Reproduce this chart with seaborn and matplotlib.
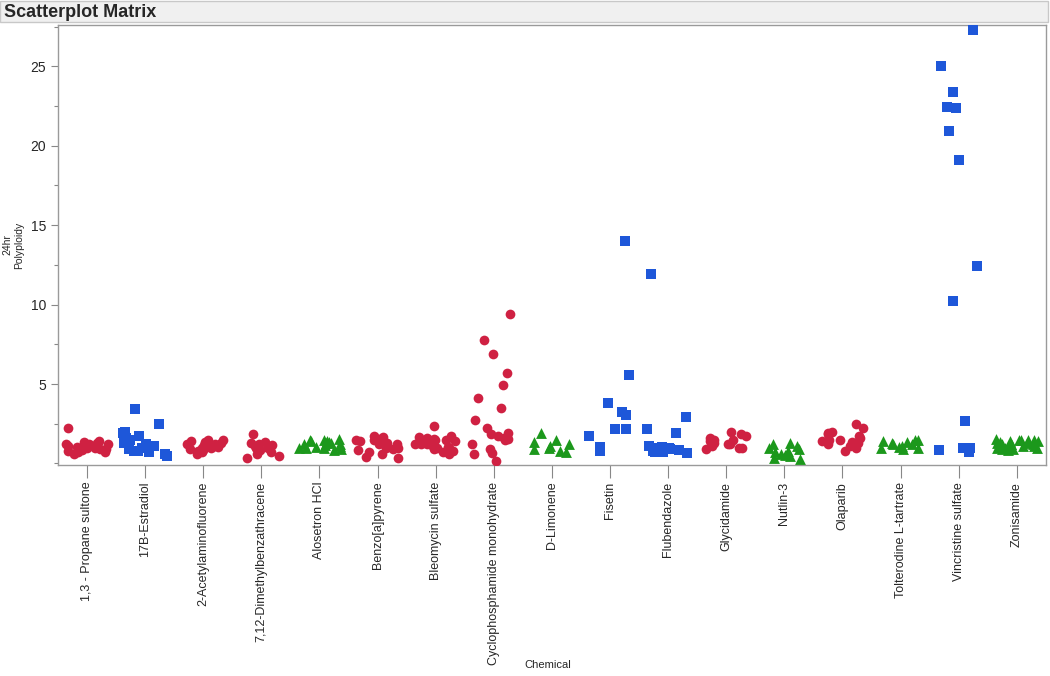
import numpy as np
import pandas as pd
import matplotlib
matplotlib.use("Agg")
import matplotlib.pyplot as plt
from matplotlib.patches import Rectangle
from matplotlib.ticker import MultipleLocator
import seaborn as sns

# Chemicals in axis order and their marker group
chemicals = ["1,3 - Propane sultone", "17B-Estradiol", "2-Acetylaminofluorene",
             "7,12-Dimethylbenzathracene", "Alosetron HCl", "Benzo[a]pyrene",
             "Bleomycin sulfate", "Cyclophosphamide monohydrate", "D-Limonene",
             "Fisetin", "Flubendazole", "Glycidamide", "Nutlin-3", "Olaparib",
             "Tolterodine L-tartrate", "Vincristine sulfate", "Zonisamide"]
groups = ["red", "blue", "red", "red", "green", "red", "red", "red", "green",
          "blue", "blue", "red", "green", "red", "green", "blue", "green"]

# 24hr polyploidy values
propane_sultone = [2.25, 1.4, 1.35, 1.3, 1.25, 1.2, 1.15, 1.1, 1.05, 1.0, 0.95, 0.9,
                   0.85, 0.8, 0.75, 0.7, 0.6, 1.1, 0.9, 1.2]
estradiol = [3.4, 2.5, 2.0, 1.9, 1.75, 1.6, 1.45, 1.3, 1.2, 1.1, 1.0, 0.9, 0.8, 0.7,
             0.6, 0.5, 0.8, 1.5]
aaf = [1.5, 1.45, 1.4, 1.35, 1.3, 1.2, 1.15, 1.1, 1.0, 0.95, 0.9, 0.85, 0.8, 0.7,
       0.6, 1.05, 1.25]
dmba = [1.85, 1.35, 1.3, 1.2, 1.1, 1.0, 0.95, 0.85, 0.7, 0.6, 0.45, 0.35, 1.15, 0.8]
alosetron = [1.55, 1.5, 1.45, 1.4, 1.35, 1.3, 1.25, 1.2, 1.1, 1.05, 1.0, 0.95, 0.9,
             0.85, 1.15, 1.3, 1.0, 1.4]
benzo = [1.7, 1.65, 1.55, 1.5, 1.45, 1.4, 1.3, 1.2, 1.1, 1.0, 0.95, 0.85, 0.75, 0.6,
         0.4, 0.35, 1.25, 0.9]
bleomycin = [2.35, 1.75, 1.65, 1.6, 1.55, 1.5, 1.45, 1.4, 1.35, 1.3, 1.25, 1.2, 1.15,
             1.1, 1.05, 1.0, 0.95, 0.9, 0.85, 0.8, 0.7, 0.6, 1.4, 1.2]
cyclophosphamide = [9.4, 7.8, 6.9, 5.7, 4.95, 4.15, 3.5, 2.75, 2.25, 1.9, 1.85, 1.7,
                    1.6, 1.55, 1.5, 1.25, 0.9, 0.65, 0.6, 0.15]
limonene = [1.95, 1.5, 1.35, 1.2, 1.1, 1.0, 0.9, 0.8, 0.7]
fisetin = [14.0, 5.6, 3.8, 3.25, 3.05, 2.2, 2.15, 1.7, 1.05, 0.8]
flubendazole = [11.95, 2.95, 2.15, 1.95, 1.1, 1.05, 1.0, 1.0, 0.95, 0.9, 0.9, 0.85,
                0.8, 0.8, 0.75, 0.7, 0.7, 0.65]
glycidamide = [2.0, 1.85, 1.7, 1.6, 1.5, 1.45, 1.4, 1.3, 1.2, 1.1, 1.0, 0.95, 0.9, 1.25]
nutlin = [1.3, 1.2, 1.1, 1.0, 0.9, 0.8, 0.7, 0.55, 0.45, 0.35, 0.3, 0.6]
olaparib = [2.5, 2.25, 2.0, 1.85, 1.7, 1.6, 1.5, 1.45, 1.35, 1.3, 1.2, 1.1, 1.0, 0.8,
            1.9, 1.4]
tolterodine = [1.5, 1.45, 1.4, 1.35, 1.3, 1.2, 1.1, 1.05, 1.0, 0.95, 0.9, 1.25]
vincristine = [27.3, 25.0, 23.4, 22.45, 22.4, 20.9, 19.1, 12.4, 10.25, 2.65, 1.0, 0.95,
               0.85, 0.75]
zonisamide = [1.55, 1.5, 1.5, 1.45, 1.45, 1.4, 1.4, 1.35, 1.3, 1.3, 1.25, 1.2, 1.2,
              1.15, 1.1, 1.1, 1.05, 1.0, 1.0, 0.95, 0.9, 0.9, 0.85, 1.3, 1.2]

values = [propane_sultone, estradiol, aaf, dmba, alosetron, benzo, bleomycin,
          cyclophosphamide, limonene, fisetin, flubendazole, glycidamide, nutlin,
          olaparib, tolterodine, vincristine, zonisamide]

rows = []
for chem, grp, vals in zip(chemicals, groups, values):
    for v in vals:
        rows.append((chem, grp, v))
df = pd.DataFrame(rows, columns=["Chemical", "group", "Polyploidy"])

sns.set_style("white")
plt.rcParams["font.family"] = ["Liberation Sans", "DejaVu Sans"]

colors = {"red": "#CF2142", "blue": "#1E57D9", "green": "#1C981C"}
markers = {"red": "o", "blue": "s", "green": "^"}
sizes = {"red": 7.0, "blue": 6.6, "green": 7.8}

fig = plt.figure(figsize=(10.5, 6.76), dpi=100)
ax = fig.add_axes([0.0552, 0.312, 0.9408, 0.651])

np.random.seed(7)
for grp in ["red", "blue", "green"]:
    sub = df[df["group"] == grp]
    sns.stripplot(data=sub, x="Chemical", y="Polyploidy", order=chemicals,
                  color=colors[grp], marker=markers[grp], size=sizes[grp],
                  jitter=0.38, linewidth=0, ax=ax)

ax.set_xlim(-0.5, len(chemicals) - 0.5)
ax.set_ylim(-0.1, 27.6)
ax.set_yticks([5, 10, 15, 20, 25])
ax.yaxis.set_minor_locator(MultipleLocator(2.5))
ax.tick_params(axis="y", which="major", direction="out", length=5, width=0.8,
               color="#888888", labelsize=10, left=True)
ax.tick_params(axis="y", which="minor", direction="out", length=3, width=0.8,
               color="#888888", left=True)
ax.tick_params(axis="x", direction="out", length=9, width=0.8, color="#888888",
               labelsize=9, bottom=True, pad=3)
plt.setp(ax.get_xticklabels(), rotation=90)

for side in ["left", "right", "top", "bottom"]:
    ax.spines[side].set_visible(True)
    ax.spines[side].set_color("#9A9A9A")
    ax.spines[side].set_linewidth(1.0)

ax.set_xlabel("")
ax.set_ylabel("24hr\nPolyploidy", fontsize=7.5)
ax.yaxis.set_label_coords(-0.034, 0.5)
fig.text(0.522, 0.016, "Chemical", fontsize=8, ha="center", va="center")

# JMP-style title bar
fig.patches.append(Rectangle((0.0, 0.967), 0.998, 0.031, transform=fig.transFigure,
                             facecolor="#F0F0F0", edgecolor="#C8C8C8", linewidth=1))
fig.text(0.004, 0.982, "Scatterplot Matrix", fontsize=13, fontweight="bold",
         va="center", ha="left")

fig.savefig("out.png", dpi=100)
